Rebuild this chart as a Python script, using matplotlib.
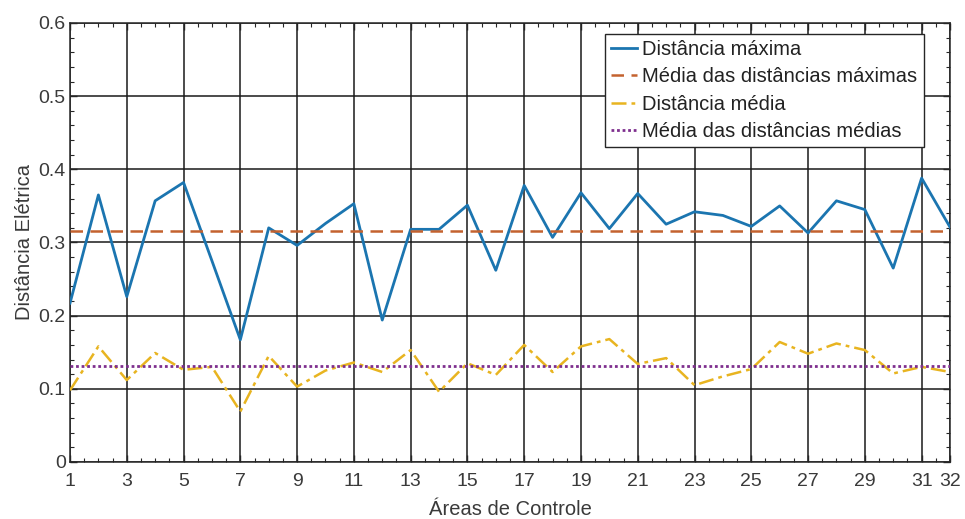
import numpy as np
import matplotlib.pyplot as plt
from matplotlib.ticker import MultipleLocator

plt.rcParams['font.family'] = ['Liberation Sans', 'DejaVu Sans']

# Data
areas = np.arange(1, 33)
dist_max = [0.217, 0.365, 0.226, 0.357, 0.382, 0.275, 0.167, 0.320, 0.296, 0.326,
            0.353, 0.194, 0.318, 0.318, 0.351, 0.262, 0.378, 0.307, 0.368, 0.319,
            0.367, 0.325, 0.342, 0.337, 0.322, 0.350, 0.313, 0.357, 0.345, 0.265,
            0.388, 0.321]
dist_med = [0.098, 0.158, 0.112, 0.149, 0.126, 0.130, 0.069, 0.145, 0.103, 0.125,
            0.136, 0.123, 0.153, 0.096, 0.135, 0.119, 0.160, 0.123, 0.158, 0.168,
            0.134, 0.142, 0.105, 0.117, 0.127, 0.164, 0.148, 0.162, 0.153, 0.121,
            0.130, 0.123]
mean_max = 0.316
mean_med = 0.131
xticks = [1, 3, 5, 7, 9, 11, 13, 15, 17, 19, 21, 23, 25, 27, 29, 31, 32]

fig = plt.figure(figsize=(9.65, 5.19), dpi=100)
ax = fig.add_axes([70 / 965, 57 / 519, 880 / 965, 439 / 519])

ax.plot(areas, dist_max, color='#1b75b0', lw=2.0, label='Distância máxima', zorder=3)
ax.plot([areas[0], areas[-1]], [mean_max, mean_max], color='#c4622f', lw=1.8,
        ls=(0, (5, 3)), label='Média das distâncias máximas', zorder=3)
ax.plot(areas, dist_med, color='#e8b420', lw=1.8, ls=(0, (6, 2, 1.5, 2)),
        label='Distância média', zorder=3)
ax.plot([areas[0], areas[-1]], [mean_med, mean_med], color='#7E2F8E', lw=2.0,
        ls=(0, (1, 1)), label='Média das distâncias médias', zorder=3)

ax.set_xlim(1, 32)
ax.set_ylim(0, 0.6)
ax.set_xticks(xticks)
ax.set_yticks([0, 0.1, 0.2, 0.3, 0.4, 0.5, 0.6])
ax.set_yticklabels(['0', '0.1', '0.2', '0.3', '0.4', '0.5', '0.6'])
ax.xaxis.set_minor_locator(MultipleLocator(0.5))
ax.yaxis.set_minor_locator(MultipleLocator(0.02))
ax.tick_params(which='both', direction='in', top=True, right=True,
               labelsize=14, colors='#262626', labelcolor='#3a3a3a')
ax.tick_params(which='major', length=5, width=1)
ax.tick_params(which='minor', length=3, width=0.8)
ax.tick_params(axis='x', pad=8)
ax.tick_params(axis='y', pad=3)

ax.grid(True, which='major', color='#1a1a1a', lw=1.1)
for s in ax.spines.values():
    s.set_color('#262626')
    s.set_linewidth(1.1)

ax.set_xlabel('Áreas de Controle', fontsize=14.5, color='#3a3a3a', labelpad=7)
ax.set_ylabel('Distância Elétrica', fontsize=14.5, color='#3a3a3a', labelpad=3)

leg = ax.legend(loc='upper right', bbox_to_anchor=(0.97, 0.975), fontsize=14.5,
                frameon=True, fancybox=False, framealpha=1, edgecolor='#262626',
                handlelength=1.3, handletextpad=0.25, borderpad=0.3,
                labelspacing=0.42, borderaxespad=0)
leg.get_frame().set_linewidth(1.0)
for t in leg.get_texts():
    t.set_color('#222222')

fig.savefig('out.png', dpi=100)
